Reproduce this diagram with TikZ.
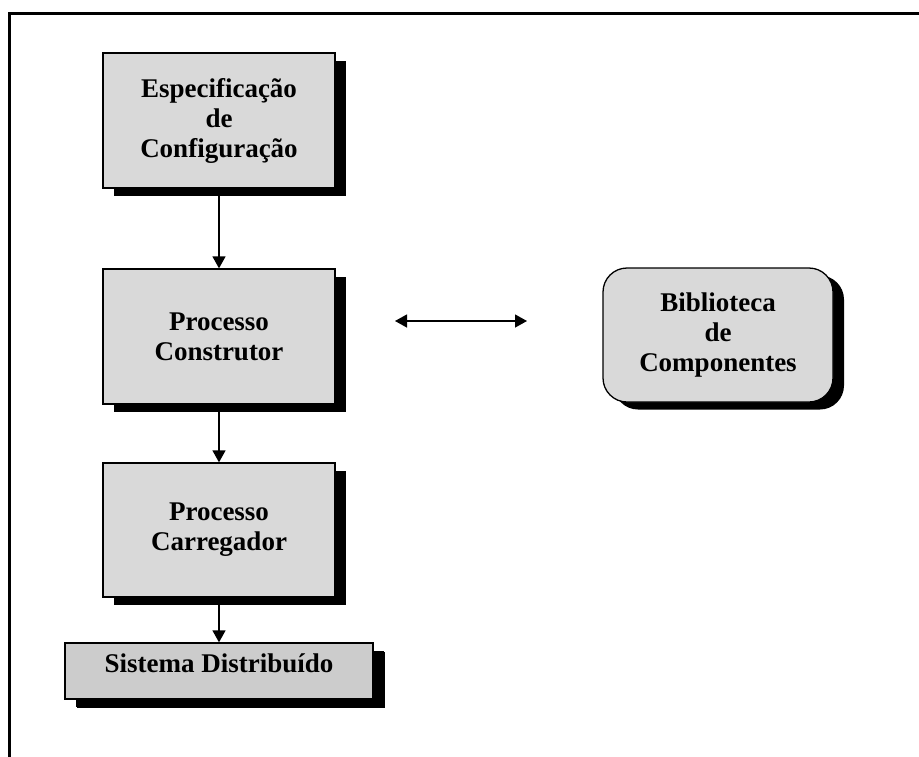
\documentclass[tikz,border=0pt]{standalone}
\usepackage{fontspec}
\setmainfont{Liberation Serif}
\usetikzlibrary{arrows.meta,shadows}
\definecolor{boxgray}{RGB}{217,217,217}
\definecolor{boxgraydark}{RGB}{204,204,204}
\tikzset{
  stagebox/.style={draw=black, line width=1.3pt, fill=boxgray,
    minimum width=232pt, minimum height=135pt, inner sep=0pt,
    align=center, font=\bfseries\fontsize{27}{30}\selectfont,
    drop shadow={shadow xshift=11pt, shadow yshift=-7.5pt, fill=black, opacity=1}},
  libbox/.style={stagebox, rounded corners=24pt, minimum width=230pt, minimum height=134pt},
  sysbox/.style={stagebox, fill=boxgraydark, minimum width=308pt, minimum height=56pt,
    text height=29pt, text depth=27pt,
    drop shadow={shadow xshift=12pt, shadow yshift=-9pt, fill=black, opacity=1}},
  flow/.style={line width=1.3pt, -{Triangle[length=12pt,width=13pt]}},
  twoway/.style={line width=1.3pt, {Triangle[length=12pt,width=13pt]}-{Triangle[length=12pt,width=13pt]}}
}
\begin{document}
\begin{tikzpicture}[x=1pt, y=-1pt]
  \useasboundingbox (0,0) rectangle (919,756);
  % outer frame (continues past the right and bottom edges)
  \draw[line width=3pt] (9,800) -- (9,13) -- (960,13);

  \node[stagebox] (spec) at (219,120.5) {Especificação\\de\\Configuração};
  \node[stagebox] (constr) at (219,336.5) {Processo\\Construtor};
  \node[stagebox, minimum height=134pt] (carr) at (219,530) {Processo\\Carregador};
  \node[sysbox] (sys) at (219,671) {Sistema Distribuído};
  \node[libbox] (lib) at (718,335) {Biblioteca\\de\\Componentes};

  \coordinate (la) at (395,321);
  \coordinate (lb) at (527,321);

  \draw[flow] (spec.south) -- (constr.north);
  \draw[flow] (constr.south) -- (carr.north);
  \draw[flow] (carr.south) -- (sys.north);
  \draw[twoway] (la) -- (lb);
\end{tikzpicture}
\end{document}
